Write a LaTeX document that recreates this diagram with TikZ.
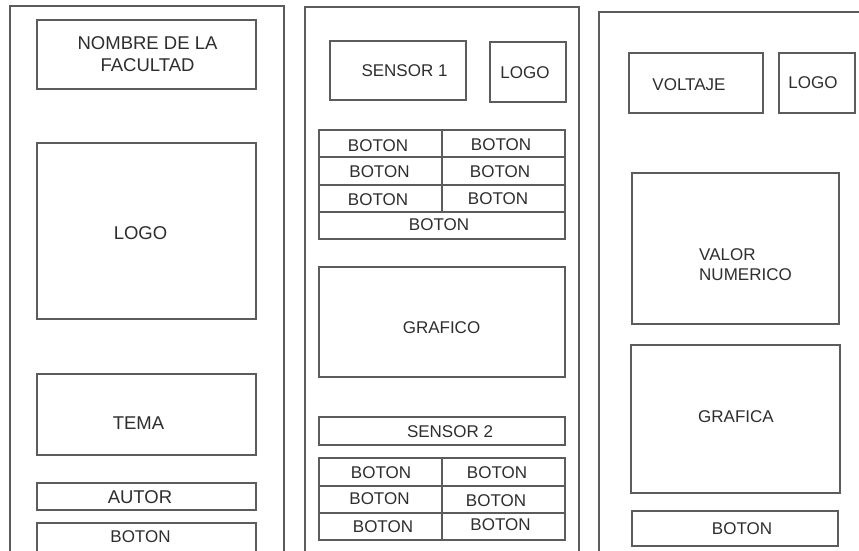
\documentclass[tikz,border=0pt]{standalone}
\usepackage{fontspec}
\setmainfont{Liberation Sans}
\definecolor{lc}{HTML}{5C5C5C}
\definecolor{tc}{HTML}{2E2E2E}
\tikzset{
  box/.style={draw=lc, line width=1.1pt, rectangle, inner sep=0pt, outer sep=0pt},
  lbl/.style={text=tc, font=\fontsize{17}{20}\selectfont, inner sep=0pt},
  biglbl/.style={text=tc, font=\fontsize{18.5}{22}\selectfont, inner sep=0pt, align=center},
}
% name, x1, y1, x2, y2
\newcommand\uibox[5]{\node[box, minimum width={#4-#2}, minimum height={#5-#3}] (#1) at ({(#2+#4)/2},{(#3+#5)/2}) {};}
\begin{document}
\begin{tikzpicture}[x=1pt,y=-1pt]
\useasboundingbox (0,0) rectangle (859,550);
\clip (0,0) rectangle (859,550);
\fill[white] (0,0) rectangle (859,550);

% ---------- Panel 1 ----------
\uibox{p1}{10}{6}{284}{580}
\uibox{nombre}{37}{20}{256}{89}
\node[biglbl] (tnombre) at (147.5,54) {NOMBRE DE LA\\FACULTAD};
\uibox{logoA}{37}{143}{256}{319}
\node[biglbl] (tlogoA) at (140.5,233) {LOGO};
\uibox{tema}{37}{374}{256}{455}
\node[biglbl] (ttema) at (138.5,423) {TEMA};
\uibox{autor}{37}{483}{256}{510}
\node[biglbl] (tautor) at (140,497) {AUTOR};
\uibox{botA}{37}{523}{256}{565}
\node[lbl] (tbotA) at (140.5,537) {BOTON};

% ---------- Panel 2 ----------
\uibox{p2}{305}{7}{579}{580}
\uibox{sensor1}{330}{41}{466}{100}
\node[lbl] (tsensor1) at (404.5,71) {SENSOR 1};
\uibox{logoB}{490}{42}{566}{102}
\node[lbl] (tlogoB) at (525,73) {LOGO};
% top button grid
\uibox{g11}{319}{130}{442}{157}
\uibox{g12}{442}{130}{565}{157}
\uibox{g21}{319}{157}{442}{185}
\uibox{g22}{442}{157}{565}{185}
\uibox{g31}{319}{185}{442}{212}
\uibox{g32}{442}{185}{565}{212}
\uibox{g41}{319}{212}{565}{239}
\node[lbl] (tg11) at (378,146) {BOTON};
\node[lbl] (tg12) at (501,145) {BOTON};
\node[lbl] (tg21) at (379.5,172) {BOTON};
\node[lbl] (tg22) at (500,172) {BOTON};
\node[lbl] (tg31) at (378,200) {BOTON};
\node[lbl] (tg32) at (498,199) {BOTON};
\node[lbl] (tg41) at (439,225) {BOTON};
\uibox{grafico}{319}{267}{565}{377}
\node[lbl] (tgrafico) at (441.5,328) {GRAFICO};
\uibox{sensor2}{319}{417}{565}{445}
\node[lbl] (tsensor2) at (450,432) {SENSOR 2};
% bottom button grid
\uibox{h11}{319}{458}{442}{486}
\uibox{h12}{442}{458}{565}{486}
\uibox{h21}{319}{486}{442}{513}
\uibox{h22}{442}{486}{565}{513}
\uibox{h31}{319}{513}{442}{540}
\uibox{h32}{442}{513}{565}{540}
\node[lbl] (th11) at (381,473) {BOTON};
\node[lbl] (th12) at (497,473) {BOTON};
\node[lbl] (th21) at (379.5,499) {BOTON};
\node[lbl] (th22) at (496,501) {BOTON};
\node[lbl] (th31) at (383,527) {BOTON};
\node[lbl] (th32) at (500.5,525) {BOTON};

% ---------- Panel 3 ----------
\uibox{p3}{599}{12}{880}{580}
\uibox{voltaje}{629}{53}{763}{113}
\node[lbl] (tvoltaje) at (689,85) {VOLTAJE};
\uibox{logoC}{779}{53}{855}{113}
\node[lbl] (tlogoC) at (813,83) {LOGO};
\uibox{valor}{632}{173}{839}{324}
\node[lbl, align=left, anchor=north west] (tvalor) at (699,248) {VALOR\\NUMERICO};
\uibox{grafica}{631}{345}{840}{493}
\node[lbl] (tgrafica) at (736,417) {GRAFICA};
\uibox{botC}{632}{511}{838}{546}
\node[lbl] (tbotC) at (742,529) {BOTON};
\end{tikzpicture}
\end{document}
